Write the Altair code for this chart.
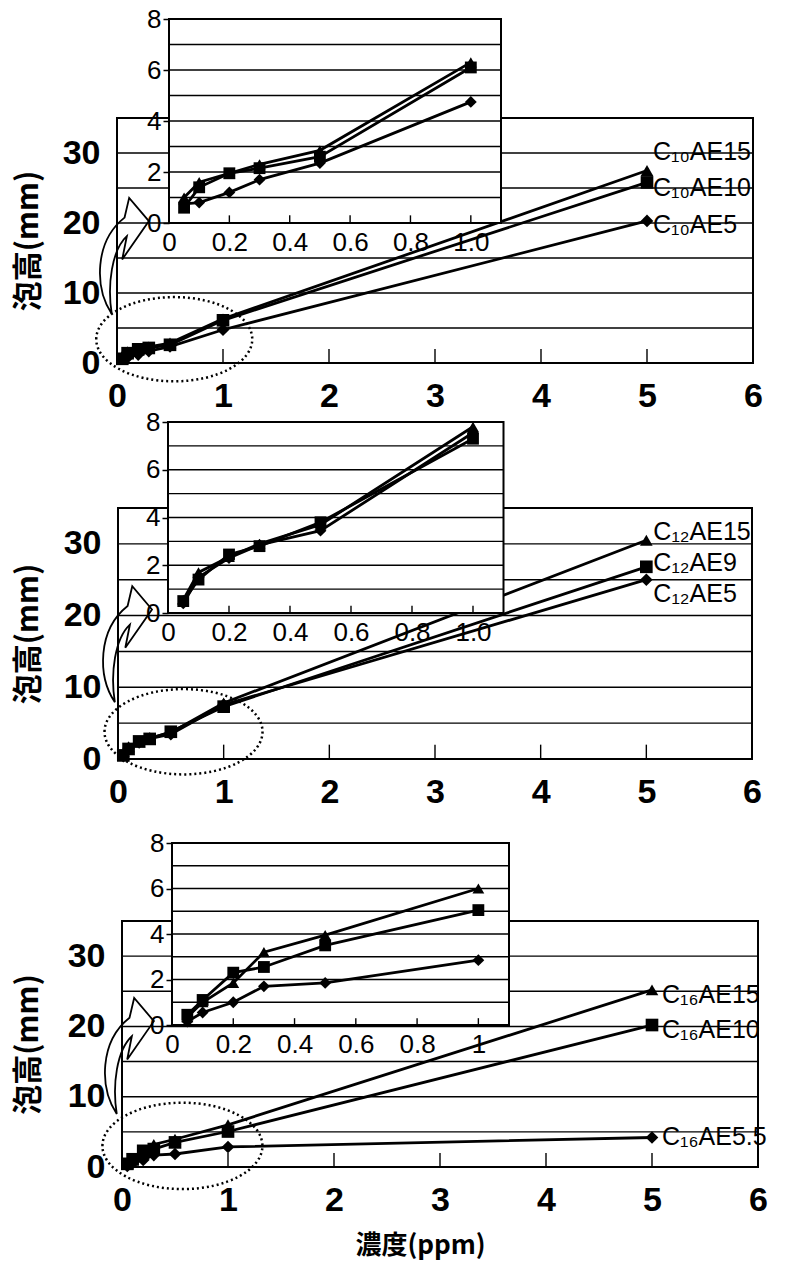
import altair as alt
import pandas as pd

# ---------------- data ----------------
conc_ppm = [0.05, 0.1, 0.2, 0.3, 0.5, 1.0, 5.0]

c10_series = ["C₁₀AE15", "C₁₀AE10", "C₁₀AE5"]
c10_ae15 = [1.0, 1.6, 1.95, 2.3, 2.85, 6.3, 27.5]
c10_ae10 = [0.6, 1.4, 1.95, 2.15, 2.6, 6.1, 25.8]
c10_ae5 = [0.75, 0.8, 1.2, 1.7, 2.35, 4.75, 20.3]

c12_series = ["C₁₂AE15", "C₁₂AE9", "C₁₂AE5"]
c12_ae15 = [0.55, 1.7, 2.35, 2.9, 3.7, 7.8, 30.5]
c12_ae9 = [0.5, 1.4, 2.45, 2.8, 3.8, 7.3, 26.8]
c12_ae5 = [0.4, 1.5, 2.3, 2.85, 3.45, 7.55, 25.0]

c16_series = ["C₁₆AE15", "C₁₆AE10", "C₁₆AE5.5"]
c16_ae15 = [0.35, 1.0, 1.85, 3.2, 3.95, 6.0, 25.2]
c16_ae10 = [0.45, 1.1, 2.3, 2.55, 3.5, 5.05, 20.2]
c16_ae55 = [0.15, 0.55, 1.0, 1.7, 1.85, 2.85, 4.2]

main_x_ticks = [0, 1, 2, 3, 4, 5, 6]
main_y_ticks = [0, 10, 20, 30]
main_y_grid = [5, 10, 15, 20, 25, 30]
inset_x_ticks = [0, 0.2, 0.4, 0.6, 0.8, 1.0]
inset_y_ticks = [0, 2, 4, 6, 8]
inset_y_grid = [1, 2, 3, 4, 5, 6, 7]

y_title = "泡高(mm)"
x_title = "濃度(ppm)"
markers = ["triangle-up", "square", "diamond"]

# ---------------- layout / style ----------------
W, H = 797, 1271
NUM_FONT = "Liberation Sans"
CJK_FONT = "Noto Sans CJK JP"
ELLIPSE_PATH = ("M -1 0 C -1 -0.298 -0.552 -0.54 0 -0.54 C 0.552 -0.54 1 -0.298 1 0 "
                "C 1 0.298 0.552 0.54 0 0.54 C -0.552 0.54 -1 0.298 -1 0 Z")
ARROW_PATH = ("M -0.2 1 C -0.5 0.55 -0.5 -0.25 0.02 -0.66 L 0.1 -1 L 0.44 -0.6 "
              "L -0.02 0.06 L 0.06 -0.34 C -0.2 -0.1 -0.28 0.5 -0.2 1 Z")

panels = [
    dict(series=c10_series, values=[c10_ae15, c10_ae10, c10_ae5],
         main_x=(117, 753), main_y=(363, 118), inset_x=(169, 501), inset_y=(223, 19),
         label_dx=6, label_dy=[-19, 6, 4], ellipse=(0.54, 3.4, 78), arrow=(0.06, 15.3),
         inset_labels="datum.value == 0 ? '0' : format(datum.value, '.1f')"),
    dict(series=c12_series, values=[c12_ae15, c12_ae9, c12_ae5],
         main_x=(118, 752), main_y=(759, 508), inset_x=(168, 503.5), inset_y=(613, 422),
         label_dx=7, label_dy=[-8, -4, 14], ellipse=(0.62, 3.8, 79), arrow=(0.08, 16.0),
         inset_labels="datum.value == 0 ? '0' : format(datum.value, '.1f')"),
    dict(series=c16_series, values=[c16_ae15, c16_ae10, c16_ae55],
         main_x=(122, 758), main_y=(1167, 921), inset_x=(172, 509), inset_y=(1025, 843),
         label_dx=10, label_dy=[5, 5, 0], ellipse=(0.57, 3.0, 80), arrow=(0.06, 15.8),
         inset_labels="(datum.value == 0 || datum.value == 1) ? format(datum.value, 'd') : format(datum.value, '.1f')"),
]


def long_df(series, values):
    rows = []
    for name, vals in zip(series, values):
        for x, y in zip(conc_ppm, vals):
            rows.append({"series": name, "x": x, "y": y})
    return pd.DataFrame(rows)


layers = []
for k, p in enumerate(panels):
    last = k == len(panels) - 1
    mx0, mx1 = p["main_x"]
    my0, my1 = p["main_y"]
    ix0, ix1 = p["inset_x"]
    iy0, iy1 = p["inset_y"]

    def MX(f, axis=None):
        return alt.X(f, type="quantitative",
                     scale=alt.Scale(domain=[0, 6], range=[mx0, mx1], nice=False, zero=False),
                     axis=axis)

    def MY(f, axis=None):
        return alt.Y(f, type="quantitative",
                     scale=alt.Scale(domain=[0, 35], range=[my0, my1], nice=False, zero=False),
                     axis=axis)

    def IX(f, axis=None):
        return alt.X(f, type="quantitative",
                     scale=alt.Scale(domain=[0, 1.1], range=[ix0, ix1], nice=False, zero=False),
                     axis=axis)

    def IY(f, axis=None):
        return alt.Y(f, type="quantitative",
                     scale=alt.Scale(domain=[0, 8], range=[iy0, iy1], nice=False, zero=False),
                     axis=axis)

    shape_enc = alt.Shape("series:N", scale=alt.Scale(domain=p["series"], range=markers), legend=None)

    df = long_df(p["series"], p["values"])
    dfi = df[df["x"] <= 1.0]

    # ---- axes ----
    xaxis_kw = dict(orient="bottom", offset=my0 - H, values=main_x_ticks, format="d",
                    labelFont=NUM_FONT, labelFontSize=34, labelFontWeight="bold", labelColor="black",
                    labelPadding=16, labelFlush=False, labelOverlap=False,
                    ticks=False, domain=False, grid=False)
    if last:
        xaxis_kw.update(title=x_title, titleFont=CJK_FONT, titleFontSize=26, titleFontWeight="bold",
                        titleColor="black", titleX=420, titleY=78, titleAlign="center",
                        titleBaseline="middle", titleAngle=0)
    else:
        xaxis_kw.update(title=None)
    main_xaxis = alt.Axis(**xaxis_kw)
    main_yaxis = alt.Axis(orient="left", offset=-mx0, values=main_y_ticks, format="d",
                          labelFont=NUM_FONT, labelFontSize=34, labelFontWeight="bold",
                          labelColor="black", labelPadding=17, labelOverlap=False,
                          ticks=False, domain=False, grid=False,
                          title=y_title, titleFont=CJK_FONT, titleFontSize=30, titleFontWeight="bold",
                          titleColor="black", titleX=28 - mx0, titleY=(my0 + my1) / 2,
                          titleAngle=270, titleAlign="center", titleBaseline="middle")
    inset_xaxis = alt.Axis(orient="bottom", offset=iy0 - H, values=inset_x_ticks,
                           labelExpr=p["inset_labels"], labelFont=NUM_FONT, labelFontSize=26,
                           labelColor="black", labelPadding=6, labelFlush=False, labelOverlap=False,
                           ticks=False, domain=False, grid=False, title=None)
    inset_yaxis = alt.Axis(orient="left", offset=-ix0, values=inset_y_ticks, format="d",
                           labelFont=NUM_FONT, labelFontSize=26, labelColor="black",
                           labelPadding=2, tickSize=6, tickWidth=1.5, tickColor="black",
                           labelOverlap=False, domain=False, grid=False, title=None)

    # ---- main plot ----
    box = pd.DataFrame({"x0": [0], "x1": [6], "y0": [0], "y1": [35]})
    layers.append(alt.Chart(box).mark_rect(fillOpacity=0, stroke="black", strokeWidth=2).encode(
        x=MX("x0"), x2="x1", y=MY("y0"), y2="y1"))
    grid = pd.DataFrame({"g": main_y_grid, "x0": 0, "x1": 6})
    layers.append(alt.Chart(grid).mark_rule(color="black", strokeWidth=1.4).encode(
        y=MY("g"), x=MX("x0"), x2="x1"))
    tk = pd.DataFrame({"t": main_x_ticks[1:-1], "y0": 0, "y1": 2})
    layers.append(alt.Chart(tk).mark_rule(color="black", strokeWidth=1.4).encode(
        x=MX("t"), y=MY("y0"), y2="y1"))
    ex, ey, erx = p["ellipse"]
    layers.append(alt.Chart(pd.DataFrame({"x": [ex], "y": [ey]})).mark_point(
        shape=ELLIPSE_PATH, size=(2 * erx) ** 2, filled=False, color="black", opacity=1,
        strokeWidth=2.5, strokeDash=[2, 3]).encode(x=MX("x"), y=MY("y")))
    ax_, ay_ = p["arrow"]
    layers.append(alt.Chart(pd.DataFrame({"x": [ax_], "y": [ay_]})).mark_point(
        shape=ARROW_PATH, size=116 ** 2, filled=False, color="black", opacity=1,
        strokeWidth=1.8).encode(x=MX("x"), y=MY("y")))
    layers.append(alt.Chart(df).mark_line(color="black", strokeWidth=2.8).encode(
        x=MX("x", main_xaxis), y=MY("y", main_yaxis), detail="series:N"))
    layers.append(alt.Chart(df).mark_point(filled=True, color="black", opacity=1, size=160).encode(
        x=MX("x"), y=MY("y"), shape=shape_enc))
    for name, vals, dy in zip(p["series"], p["values"], p["label_dy"]):
        lab = pd.DataFrame({"x": [conc_ppm[-1]], "y": [vals[-1]], "t": [name]})
        layers.append(alt.Chart(lab).mark_text(
            align="left", baseline="middle", dx=p["label_dx"], dy=dy, font=NUM_FONT,
            fontSize=25, color="black").encode(x=MX("x"), y=MY("y"), text="t:N"))

    # ---- inset ----
    ibox = pd.DataFrame({"x0": [0], "x1": [1.1], "y0": [0], "y1": [8]})
    layers.append(alt.Chart(ibox).mark_rect(fill="white", stroke="black", strokeWidth=2).encode(
        x=IX("x0"), x2="x1", y=IY("y0"), y2="y1"))
    igrid = pd.DataFrame({"g": inset_y_grid, "x0": 0, "x1": 1.1})
    layers.append(alt.Chart(igrid).mark_rule(color="black", strokeWidth=1.4).encode(
        y=IY("g"), x=IX("x0"), x2="x1"))
    itk = pd.DataFrame({"t": inset_x_ticks[1:], "y0": 0, "y1": 0.3})
    layers.append(alt.Chart(itk).mark_rule(color="black", strokeWidth=1.4).encode(
        x=IX("t"), y=IY("y0"), y2="y1"))
    layers.append(alt.Chart(dfi).mark_line(color="black", strokeWidth=2.8).encode(
        x=IX("x", inset_xaxis), y=IY("y", inset_yaxis), detail="series:N"))
    layers.append(alt.Chart(dfi).mark_point(filled=True, color="black", opacity=1, size=140).encode(
        x=IX("x"), y=IY("y"), shape=shape_enc))

chart = alt.layer(*layers).resolve_scale(
    x="independent", y="independent", shape="independent"
).resolve_axis(
    x="independent", y="independent"
).properties(
    width=W, height=H, padding=0, autosize=alt.AutoSizeParams(type="none")
).configure(background="white").configure_view(strokeWidth=0)

chart.save("out.html", embed_options={"renderer": "svg", "actions": False})
